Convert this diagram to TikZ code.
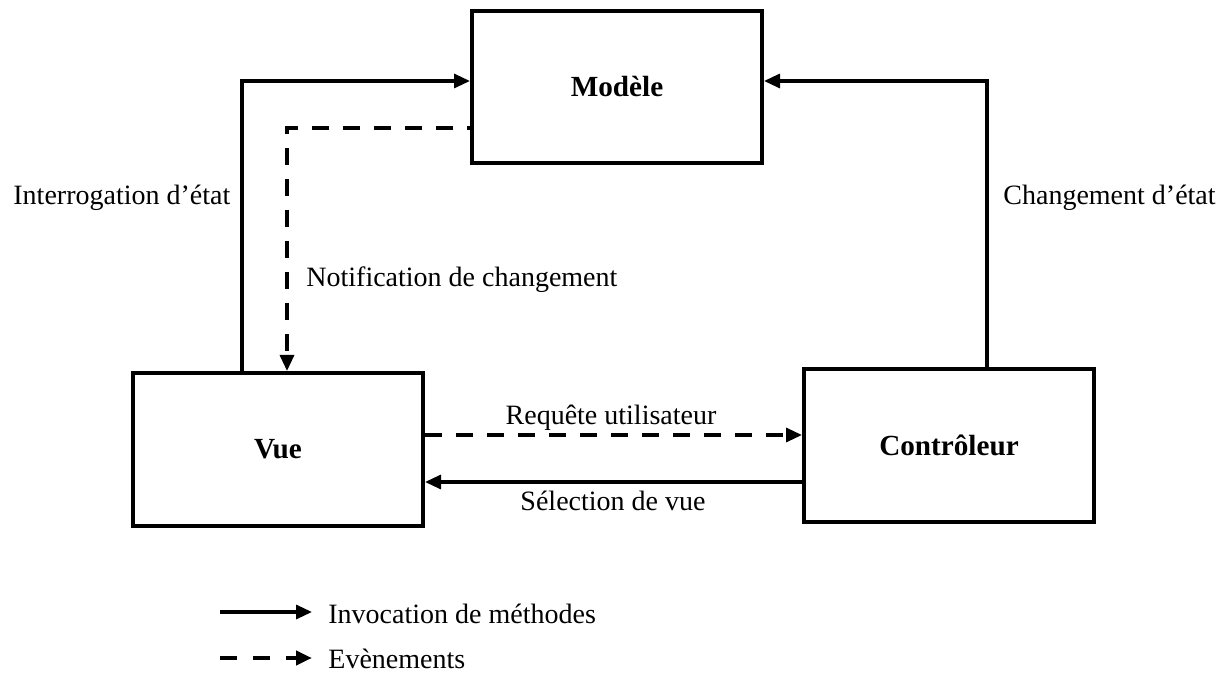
\documentclass[tikz,border=0pt]{standalone}
\usepackage{fontspec}
\setmainfont{Liberation Serif}
\usetikzlibrary{arrows.meta}
\begin{document}
\begin{tikzpicture}[x=0.5pt,y=-0.5pt,
  font=\fontsize{14}{17}\selectfont,
  box/.style={draw, line width=2pt, minimum width=145pt, minimum height=76pt, inner sep=0pt,
    font=\fontsize{14.6}{17}\selectfont\bfseries},
  conn/.style={line width=1.6pt, -{Triangle[length=8pt,width=7pt]}},
  evt/.style={conn, dash pattern=on 8.5pt off 7pt},
  lbl/.style={anchor=base west, inner sep=0pt}]
\useasboundingbox (0,0) rectangle (1221,673);
% boxes
\node[box] (model) at (617,87) {Modèle};
\node[box, minimum height=76.5pt] (vue) at (278,449.5) {Vue};
\node[box, minimum height=76.5pt] (ctrl) at (949,445.5) {Contrôleur};
% routing coordinates
\coordinate (c1) at (242,81);
\coordinate (c2) at (287,128);
\coordinate (c3) at (987,81);
\coordinate (c4) at (0,435);
\coordinate (c5) at (0,482);
% connectors
\draw[conn] (c1 |- vue.north) -- (c1) -- (c1 -| model.west);
\draw[evt, dash phase=7pt] (c2 -| model.west) -- (c2) -- (c2 |- vue.north);
\draw[conn] (c3 |- ctrl.north) -- (c3) -- (c3 -| model.east);
\draw[evt] (c4 -| vue.east) -- (c4 -| ctrl.west);
\draw[conn] (c5 -| ctrl.west) -- (c5 -| vue.east);
% labels
\node[lbl] (l1) at (13,205) {Interrogation d’état};
\node[lbl] (l2) at (1003,205) {Changement d’état};
\node[lbl] (l3) at (306,287) {Notification de changement};
\node[anchor=base, inner sep=0pt] (l4) at (611,425) {Requête utilisateur};
\node[anchor=base, inner sep=0pt] (l5) at (613,510) {Sélection de vue};
% legend
\coordinate (g1s) at (220,612);
\coordinate (g1e) at (312,612);
\coordinate (g2s) at (220,658);
\coordinate (g2e) at (312,658);
\draw[conn] (g1s) -- (g1e);
\draw[evt, line width=2pt, dash pattern=on 8.5pt off 8pt] (g2s) -- (g2e);
\node[lbl] (t1) at (328,623) {Invocation de méthodes};
\node[lbl] (t2) at (328,668) {Evènements};
\end{tikzpicture}
\end{document}
